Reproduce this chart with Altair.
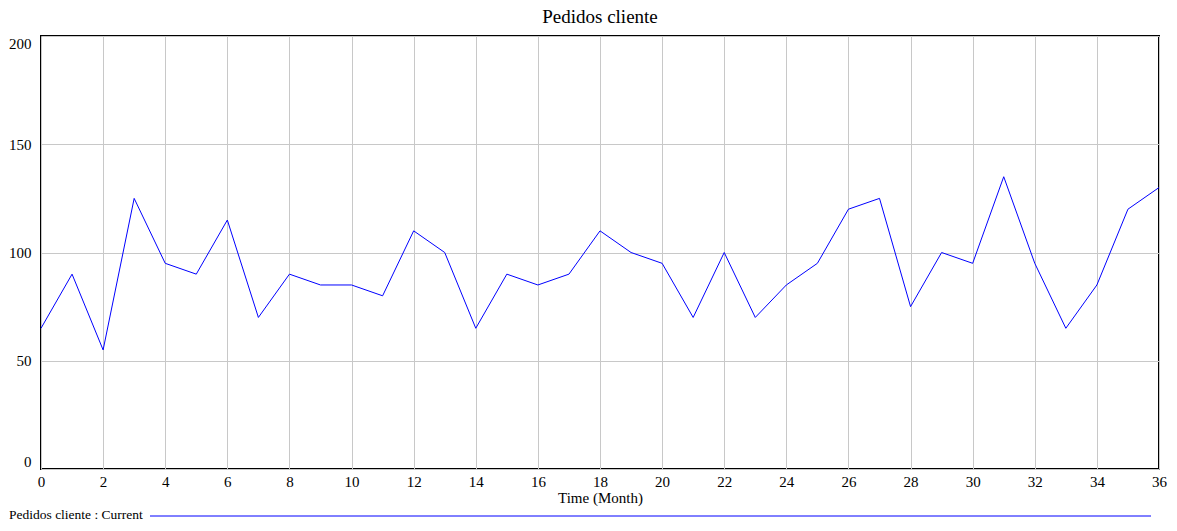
import altair as alt
import pandas as pd

months = [0, 1, 2, 3, 4, 5, 6, 7, 8, 9, 10, 11, 12, 13, 14, 15, 16, 17, 18,
          19, 20, 21, 22, 23, 24, 25, 26, 27, 28, 29, 30, 31, 32, 33, 34, 35, 36]
pedidos = [65, 90, 55, 125, 95, 90, 115, 70, 90, 85, 85, 80, 110, 100, 65, 90, 85, 90, 110,
           100, 95, 70, 100, 70, 85, 95, 120, 125, 75, 100, 95, 135, 95, 65, 85, 120, 130]
x_ticks = [0, 2, 4, 6, 8, 10, 12, 14, 16, 18, 20, 22, 24, 26, 28, 30, 32, 34, 36]
y_ticks = [0, 50, 100, 150, 200]
legend_label = ["Pedidos cliente : Current"]

df = pd.DataFrame({"Time": months, "Pedidos": pedidos})
FONT = "Liberation Serif"

line = alt.Chart(df).mark_line(color="#0000ff", strokeWidth=1).encode(
    x=alt.X("Time:Q",
            scale=alt.Scale(domain=[0, 36], nice=False, zero=False),
            axis=alt.Axis(values=x_ticks, title="Time (Month)", ticks=False, domain=False,
                          labelFont=FONT, labelFontSize=15, labelColor="black",
                          labelPadding=5, labelFlush=False, labelAngle=0,
                          titleFont=FONT, titleFontSize=15, titleFontWeight="normal",
                          titleColor="black", titlePadding=1,
                          gridColor="#c8c8c8", gridWidth=1, grid=True)),
    y=alt.Y("Pedidos:Q",
            scale=alt.Scale(domain=[0, 200], nice=False),
            axis=alt.Axis(values=y_ticks, title=None, ticks=False, domain=False,
                          labelFont=FONT, labelFontSize=15, labelColor="black",
                          labelPadding=10, labelFlush=True,
                          gridColor="#c8c8c8", gridWidth=1, grid=True)),
)

leg_df = pd.DataFrame({"label": legend_label})
leg_text = alt.Chart(leg_df).mark_text(
    align="left", baseline="middle", font=FONT, fontSize=13.5, color="black"
).encode(x=alt.value(-32), y=alt.value(479), text="label:N")
leg_rule = alt.Chart(leg_df).mark_rule(color="#0000ff", strokeWidth=1).encode(
    x=alt.value(109), x2=alt.value(1110), y=alt.value(480))

chart = alt.layer(line, leg_text, leg_rule).properties(
    width=1118, height=433,
    title=alt.TitleParams("Pedidos cliente", font=FONT, fontSize=19, fontWeight="normal",
                          color="black", offset=9, anchor="middle"),
    autosize=alt.AutoSizeParams(type="none"),
    padding={"left": 33, "top": 28, "right": 10, "bottom": 52},
).configure_view(stroke="black", strokeWidth=2)

chart.save("out.html", embed_options={"renderer": "svg", "actions": False})
